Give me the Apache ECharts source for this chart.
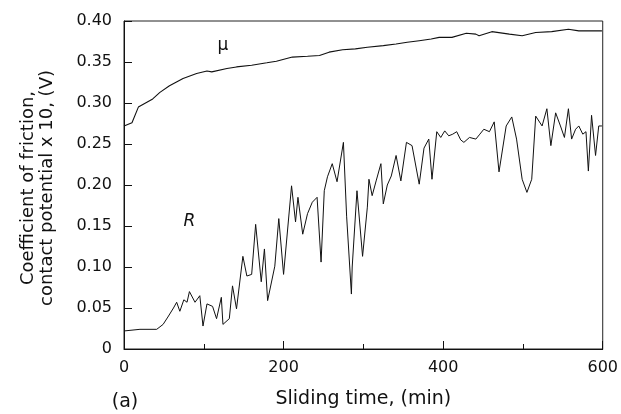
<!DOCTYPE html>
<html>
<head>
<meta charset="utf-8">
<script src="https://cdn.jsdelivr.net/npm/echarts@6/dist/echarts.min.js"></script>
<style>
  html, body { margin: 0; padding: 0; background: #fff; }
  #chart { width: 621px; height: 414px; }
</style>
</head>
<body>
<div id="chart"></div>
<script>
// friction coefficient (mu) vs sliding time (min)
const muTime = [0, 10, 18, 36, 45, 57, 74, 91, 104, 110, 129, 141, 160, 179, 191, 211, 230, 245, 257, 274, 290, 305, 325, 341, 355, 370, 385, 395, 411, 429, 441, 445, 461, 483, 499, 516, 536, 557, 570, 582, 599];
const muValue = [0.272, 0.276, 0.295, 0.305, 0.313, 0.321, 0.330, 0.336, 0.339, 0.338, 0.342, 0.344, 0.346, 0.349, 0.351, 0.356, 0.357, 0.358, 0.362, 0.365, 0.366, 0.368, 0.370, 0.372, 0.374, 0.376, 0.378, 0.380, 0.380, 0.385, 0.384, 0.382, 0.387, 0.384, 0.382, 0.386, 0.387, 0.390, 0.388, 0.388, 0.388];

// contact potential x 10 (R) vs sliding time (min)
const rTime = [0, 20, 41, 49, 55, 62, 66, 70, 75, 79, 82, 89, 95, 99, 104, 111, 116, 122, 124, 132, 136, 141, 149, 154, 160, 165, 172, 176, 180, 189, 194, 200, 210, 215, 218, 224, 230, 236, 242, 247, 251, 255, 261, 267, 275, 279, 285, 286, 292, 299, 305, 307, 311, 316, 322, 325, 330, 335, 341, 347, 354, 361, 370, 376, 382, 386, 392, 397, 402, 407, 412, 417, 422, 426, 433, 441, 446, 451, 458, 464, 470, 479, 486, 492, 499, 505, 511, 516, 524, 530, 535, 541, 547, 552, 557, 561, 566, 570, 575, 579, 582, 586, 591, 595, 599];
const rValue = [0.022, 0.024, 0.024, 0.030, 0.039, 0.050, 0.057, 0.046, 0.060, 0.057, 0.070, 0.057, 0.065, 0.028, 0.055, 0.052, 0.037, 0.063, 0.030, 0.037, 0.077, 0.049, 0.113, 0.089, 0.091, 0.152, 0.082, 0.122, 0.059, 0.101, 0.159, 0.091, 0.199, 0.155, 0.185, 0.140, 0.165, 0.179, 0.185, 0.106, 0.193, 0.210, 0.226, 0.204, 0.252, 0.162, 0.067, 0.100, 0.193, 0.113, 0.173, 0.207, 0.187, 0.205, 0.226, 0.177, 0.200, 0.211, 0.236, 0.205, 0.252, 0.248, 0.201, 0.245, 0.256, 0.207, 0.265, 0.258, 0.266, 0.260, 0.262, 0.265, 0.255, 0.252, 0.258, 0.256, 0.262, 0.268, 0.265, 0.277, 0.216, 0.272, 0.283, 0.256, 0.207, 0.191, 0.207, 0.284, 0.272, 0.293, 0.248, 0.288, 0.272, 0.258, 0.293, 0.256, 0.268, 0.272, 0.262, 0.265, 0.217, 0.285, 0.236, 0.272, 0.272];

const pairs = (xs, ys) => xs.map((x, i) => [x, ys[i]]);
const font = '"DejaVu Sans", sans-serif';

// small text labels sitting on the curves
const curveLabel = (coord, text, italic) => ({
  symbol: 'circle', symbolSize: 1,
  itemStyle: { color: 'rgba(0,0,0,0)' },
  data: [{ coord: coord }],
  label: {
    show: true, position: 'inside', formatter: text,
    fontFamily: font, fontSize: 17, color: '#111',
    fontStyle: italic ? 'italic' : 'normal'
  }
});

const chart = echarts.init(document.getElementById('chart'));
chart.setOption({
  animation: false,
  backgroundColor: '#fff',
  grid: {
    left: 124, right: 17, top: 21, bottom: 64,
    show: true, borderColor: '#222', borderWidth: 1
  },
  xAxis: {
    type: 'value',
    min: 0, max: 600, interval: 200,
    name: 'Sliding time, (min)',
    nameLocation: 'middle',
    nameGap: 41,
    nameTextStyle: { fontFamily: font, fontSize: 19, color: '#111' },
    axisLine: { lineStyle: { color: '#111', width: 1 } },
    axisTick: { inside: true, length: 8, lineStyle: { color: '#111' } },
    minorTick: { show: true, splitNumber: 2, length: 5, lineStyle: { color: '#111' } },
    axisLabel: { fontFamily: font, fontSize: 16, color: '#111', margin: 11 },
    splitLine: { show: false }
  },
  yAxis: {
    type: 'value',
    min: 0, max: 0.40, interval: 0.05,
    axisLine: { show: true, lineStyle: { color: '#111', width: 1 } },
    axisTick: { inside: true, length: 8, lineStyle: { color: '#111' } },
    axisLabel: {
      fontFamily: font, fontSize: 16, color: '#111', margin: 12,
      formatter: v => (v === 0 ? '0' : v.toFixed(2))
    },
    splitLine: { show: false }
  },
  graphic: [
    {
      type: 'text', x: 38, y: 188, rotation: Math.PI / 2,
      style: {
        text: 'Coefficient of friction,\ncontact potential x 10, (V)',
        fontFamily: font, fontSize: 18, fill: '#111',
        textAlign: 'center', textVerticalAlign: 'middle', lineHeight: 19
      }
    },
    {
      type: 'text', x: 125, y: 402,
      style: {
        text: '(a)', fontFamily: font, fontSize: 19, fill: '#111',
        textAlign: 'center', textVerticalAlign: 'middle'
      }
    }
  ],
  series: [
    {
      name: 'mu', type: 'line', data: pairs(muTime, muValue),
      showSymbol: false,
      lineStyle: { color: '#111', width: 1.1 },
      markPoint: curveLabel([124, 0.370], 'μ', false)
    },
    {
      name: 'R', type: 'line', data: pairs(rTime, rValue),
      showSymbol: false,
      lineStyle: { color: '#111', width: 1 },
      markPoint: curveLabel([82, 0.156], 'R', true)
    }
  ]
});
</script>
</body>
</html>
